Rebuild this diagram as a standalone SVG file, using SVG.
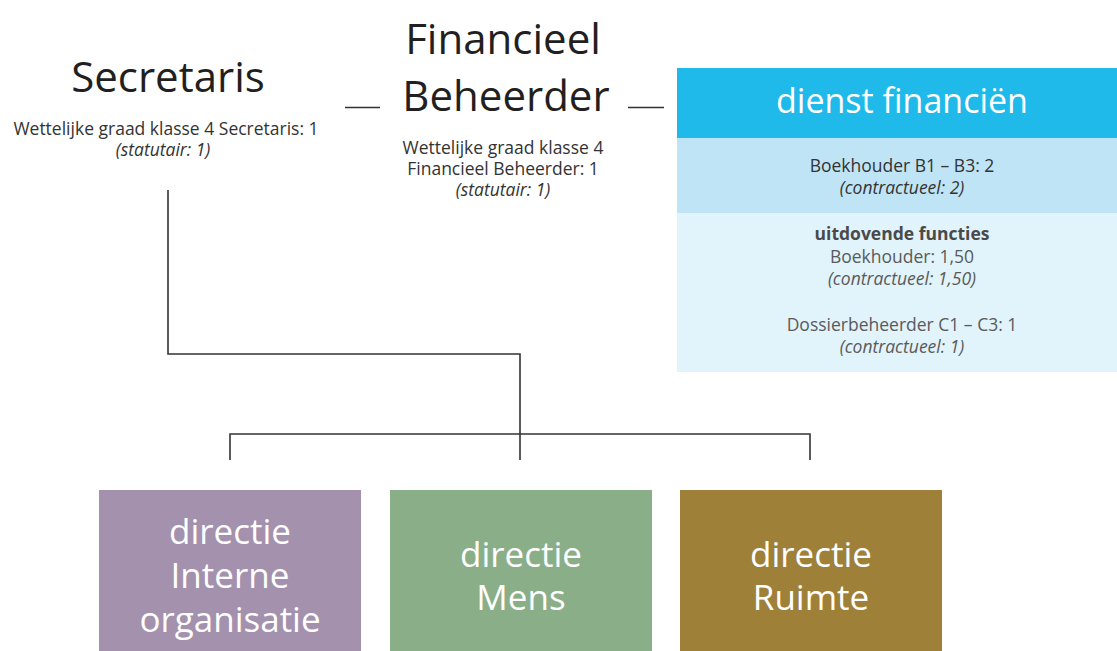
<svg xmlns="http://www.w3.org/2000/svg" width="1117" height="651" viewBox="0 0 1117 651">
<style>
text{font-family:"Open Sans","Noto Sans","Liberation Sans",sans-serif;text-anchor:middle}
.title{font-size:42px;fill:#231f20}
.sub{font-size:17.5px;fill:#333}
.it{font-style:italic}
.box{font-size:35px;fill:#fff}
.hdr{font-size:34px;fill:#fff}
.grey{fill:#5a5a5a}
.bold{font-weight:bold;fill:#4a4a4a}
.conn{stroke:#333;stroke-width:1.6;fill:none}
</style>
<rect width="1117" height="651" fill="#fff"/>
<g id="connectors">
<polyline class="conn" points="168,190 168,354 520,354 520,460"/>
<polyline class="conn" points="230,460 230,434 810,434 810,460"/>
<line class="conn" x1="345" y1="107.5" x2="380" y2="107.5" stroke="#222"/>
<line class="conn" x1="628" y1="107.5" x2="664" y2="107.5" stroke="#222"/>
</g>
<g id="secretaris">
<text class="title" x="168" y="92">Secretaris</text>
<text class="sub" x="166" y="135">Wettelijke graad klasse 4 Secretaris: 1</text>
<text class="sub it" x="163" y="156">(statutair: 1)</text>
</g>
<g id="financieel-beheerder">
<text class="title" x="503" y="54">Financieel</text>
<text class="title" x="506" y="111">Beheerder</text>
<text class="sub" x="503" y="154">Wettelijke graad klasse 4</text>
<text class="sub" x="503" y="175">Financieel Beheerder: 1</text>
<text class="sub it" x="503" y="196">(statutair: 1)</text>
</g>
<g id="dienst-financien">
<rect x="677" y="68" width="440" height="70" fill="#1fb9ea"/>
<rect x="677" y="138" width="440" height="75" fill="#bfe4f6"/>
<rect x="677" y="213" width="440" height="159" fill="#e1f3fb"/>
<text class="hdr" x="902" y="113">dienst financiën</text>
<text class="sub" x="902" y="172">Boekhouder B1 – B3: 2</text>
<text class="sub it" x="902" y="194">(contractueel: 2)</text>
<text class="sub bold" x="902" y="240">uitdovende functies</text>
<text class="sub grey" x="902" y="263">Boekhouder: 1,50</text>
<text class="sub grey it" x="902" y="285">(contractueel: 1,50)</text>
<text class="sub grey" x="902" y="331">Dossierbeheerder C1 – C3: 1</text>
<text class="sub grey it" x="902" y="353">(contractueel: 1)</text>
</g>
<g id="directie-interne-organisatie">
<rect x="99" y="490" width="262" height="161" fill="#a391ae"/>
<text class="box" x="230" y="544">directie</text>
<text class="box" x="230" y="588">Interne</text>
<text class="box" x="230" y="632">organisatie</text>
</g>
<g id="directie-mens">
<rect x="390" y="490" width="262" height="161" fill="#8aae87"/>
<text class="box" x="521" y="567">directie</text>
<text class="box" x="521" y="610">Mens</text>
</g>
<g id="directie-ruimte">
<rect x="680" y="490" width="262" height="161" fill="#9e8039"/>
<text class="box" x="811" y="567">directie</text>
<text class="box" x="811" y="610">Ruimte</text>
</g>
</svg>
